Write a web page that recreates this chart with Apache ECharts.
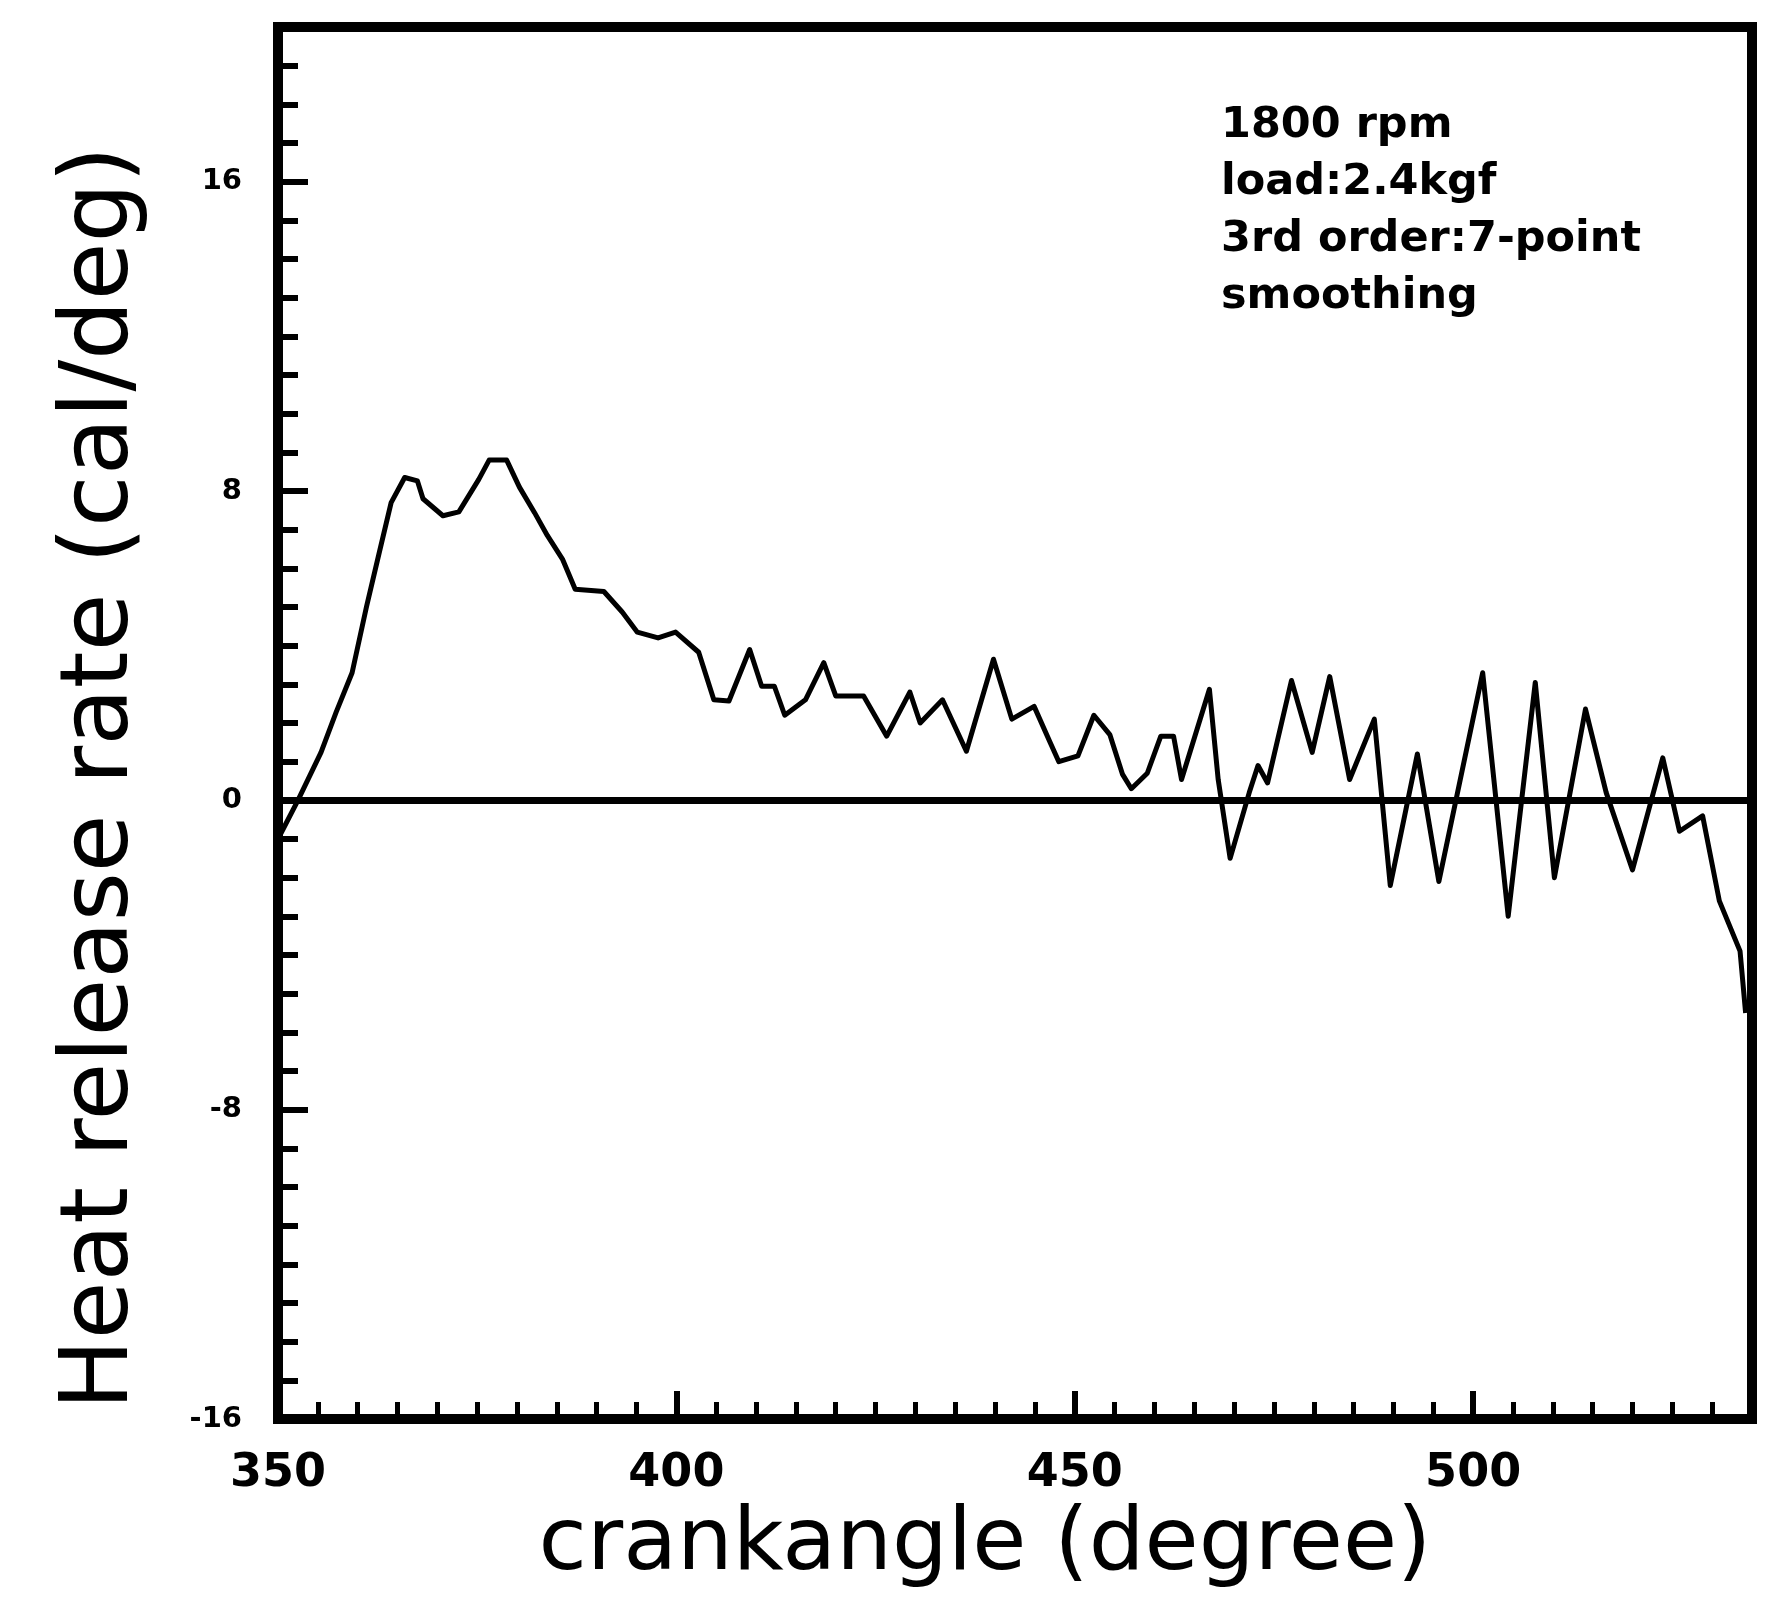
<!DOCTYPE html>
<html>
<head>
<meta charset="utf-8">
<title>Heat release rate</title>
<script src="https://cdn.jsdelivr.net/npm/echarts@6/dist/echarts.min.js"></script>
<style>
  html, body { margin: 0; padding: 0; background: #fff; }
  #chart { width: 1781px; height: 1601px; }
</style>
</head>
<body>
<div id="chart"></div>
<script>
// crank angle (degree) and heat release rate (cal/deg)
const crankAngle = [
  350, 352.5, 355.4, 357.3, 359.3, 361.1, 362.7, 364.2, 365.9, 367.5,
  368.2, 370.7, 372.7, 375.2, 376.5, 378.7, 380.3, 382.2, 383.8, 385.7,
  387.3, 390.9, 393.2, 395.1, 397.7, 399.9, 402.8, 404.7, 406.6, 409.2,
  410.7, 412.3, 413.6, 416.2, 418.5, 420.0, 423.5, 426.4, 429.3, 430.6,
  433.4, 436.4, 439.8, 442.1, 444.9, 446.9, 448.0, 450.4, 452.4, 454.4,
  456.0, 457.1, 459.1, 460.8, 462.4, 463.4, 466.9, 468.0, 469.5, 471.9,
  473.0, 474.2, 477.2, 479.8, 482.0, 484.5, 487.6, 489.6, 493.0, 495.7,
  501.2, 504.4, 507.8, 510.2, 514.1, 516.7, 520.0, 523.8, 525.9, 528.8,
  530.9, 533.5, 534.2
]
const heatRate = [
  -1.0, 0, 1.24, 2.28, 3.3, 5.0, 6.4, 7.7, 8.35, 8.26,
  7.8, 7.36, 7.46, 8.3, 8.8, 8.8, 8.1, 7.44, 6.85, 6.24,
  5.46, 5.4, 4.87, 4.35, 4.2, 4.35, 3.83, 2.6, 2.57, 3.9,
  2.95, 2.95, 2.2, 2.6, 3.56, 2.7, 2.7, 1.66, 2.8, 2.0,
  2.6, 1.27, 3.65, 2.1, 2.43, 1.5, 1.0, 1.15, 2.2, 1.7,
  0.67, 0.3, 0.7, 1.66, 1.66, 0.54, 2.87, 0.54, -1.5, 0.2,
  0.9, 0.45, 3.1, 1.24, 3.2, 0.54, 2.1, -2.2, 1.2, -2.1,
  3.3, -3.0, 3.05, -2.0, 2.36, 0.2, -1.8, 1.1, -0.8, -0.4,
  -2.6, -3.9, -5.5
]
const xTickLabels = [350, 400, 450, 500]
const yTickLabels = [-16, -8, 0, 8, 16]
const noteLines = ['1800 rpm', 'load:2.4kgf', '3rd order:7-point', 'smoothing']

// small ticks: every 5 degrees / every 1 cal/deg
const xMinorTicks = []
for (let v = 350; v <= 535; v += 5) xMinorTicks.push(v)
const yMinorTicks = []
for (let v = -16; v <= 20; v++) yMinorTicks.push(v)

const chart = echarts.init(document.getElementById('chart'))

const xBase = { type: 'value', min: 350, max: 535, gridIndex: 0, position: 'bottom', splitLine: { show: false }, axisLine: { show: false, onZero: false } }
const yBase = { type: 'value', min: -16, max: 20, gridIndex: 0, position: 'left', splitLine: { show: false }, axisLine: { show: false, onZero: false } }

const option = {
  backgroundColor: '#fff',
  animation: false,
  title: {
    text: noteLines.join('\n'),
    left: 1216,
    top: 92,
    textStyle: {
      fontFamily: 'DejaVu Sans',
      fontSize: 43,
      fontWeight: 'bold',
      lineHeight: 57,
      color: '#000'
    }
  },
  grid: {
    left: 278,
    right: 29,
    top: 27,
    bottom: 182,
    show: true,
    borderColor: '#000',
    borderWidth: 10,
    outerBoundsMode: 'none'
  },
  xAxis: [
    Object.assign({}, xBase, {
      name: 'crankangle (degree)',
      nameLocation: 'middle',
      nameGap: 44,
      nameTextStyle: { fontFamily: 'DejaVu Sans', fontSize: 88, color: '#000', padding: [0, 60, 0, 0] },
      axisTick: { show: true, inside: true, length: 17, customValues: xMinorTicks, lineStyle: { color: '#000', width: 5 } },
      axisLabel: {
        customValues: xTickLabels,
        margin: 32,
        fontFamily: 'DejaVu Sans',
        fontSize: 46,
        fontWeight: 'bold',
        color: '#000'
      }
    }),
    Object.assign({}, xBase, {
      axisTick: { show: true, inside: true, length: 28, customValues: xTickLabels, lineStyle: { color: '#000', width: 6 } },
      axisLabel: { show: false }
    })
  ],
  yAxis: [
    Object.assign({}, yBase, {
      name: 'Heat release rate (cal/deg)',
      nameLocation: 'middle',
      nameGap: 128,
      nameTextStyle: { fontFamily: 'DejaVu Sans', fontSize: 94, color: '#000', padding: [0, 110, 0, 0] },
      axisTick: { show: true, inside: true, length: 20, customValues: yMinorTicks, lineStyle: { color: '#000', width: 6 } },
      axisLabel: {
        customValues: yTickLabels,
        margin: 36,
        fontFamily: 'DejaVu Sans',
        fontSize: 29,
        fontWeight: 'bold',
        color: '#000'
      }
    }),
    Object.assign({}, yBase, {
      axisTick: { show: true, inside: true, length: 30, customValues: yTickLabels, lineStyle: { color: '#000', width: 6 } },
      axisLabel: { show: false }
    })
  ],
  series: [
    {
      type: 'line',
      xAxisIndex: 0,
      yAxisIndex: 0,
      data: crankAngle.map((x, i) => [x, heatRate[i]]),
      showSymbol: false,
      symbol: 'none',
      lineStyle: { color: '#000', width: 5, join: 'round' },
      markLine: {
        silent: true,
        symbol: 'none',
        label: { show: false },
        lineStyle: { color: '#000', width: 7, type: 'solid' },
        data: [{ yAxis: 0 }]
      }
    }
  ]
}

chart.setOption(option)
</script>
</body>
</html>
